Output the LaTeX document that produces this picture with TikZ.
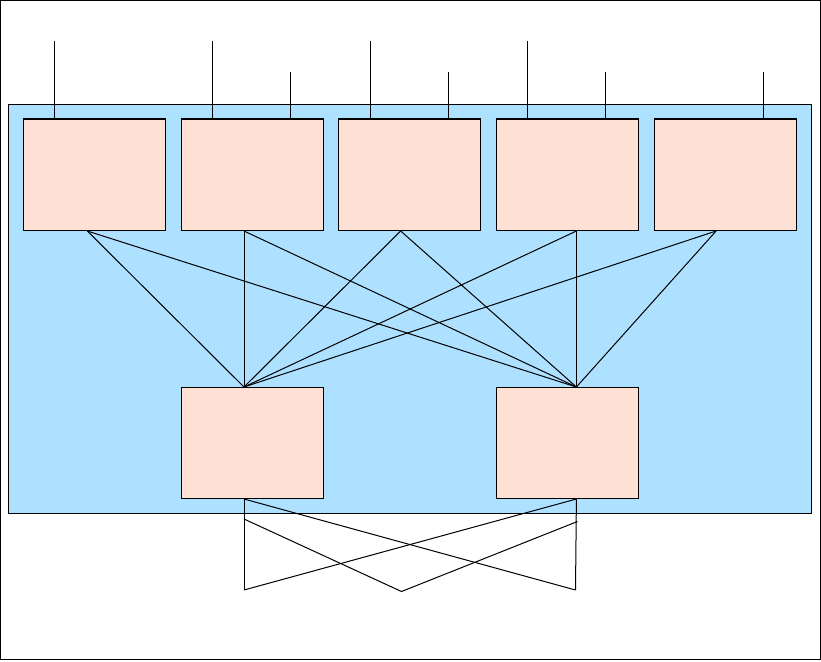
\documentclass[tikz,border=0pt]{standalone}
\usetikzlibrary{positioning}
\definecolor{panelblue}{RGB}{174,224,255}
\definecolor{boxpeach}{RGB}{255,224,212}

\begin{document}
\begin{tikzpicture}[x=1pt, y=-1pt, line width=1pt,
  unit/.style={draw, fill=boxpeach, minimum width=142pt, minimum height=111pt, inner sep=0pt}]
  \useasboundingbox (0,0) rectangle (821,661);
  % outer frame and blue panel
  \draw (0.5,0.5) rectangle (820.5,659.5);
  \node[draw, fill=panelblue, minimum width=803pt, minimum height=409pt, inner sep=0pt] (panel) at (409.75,308.5) {};

  % upper row of units
  \node[unit] (t1) at (94.3,175) {};
  \node[unit, right=14.7pt of t1] (t2) {};
  \node[unit, right=14.7pt of t2] (t3) {};
  \node[unit, right=14.7pt of t3] (t4) {};
  \node[unit, right=14.7pt of t4] (t5) {};
  \foreach \t in {t1,t2,t3,t4,t5}
    \draw[line width=2pt] (\t.north west) -- (\t.north east);

  % lower pair
  \node[unit, below=156pt of t2] (b1) {};
  \node[unit, below=156pt of t4] (b2) {};

  % leads on top of the upper units
  \foreach \t in {t1,t2,t3,t4}
    \draw ([xshift=32]\t.north west) -- ++(0,-78);
  \foreach \t in {t2,t3,t4,t5}
    \draw ([xshift=110]\t.north west) -- ++(0,-47);

  % attachment points
  \coordinate (t1o) at ([xshift=-7]t1.south);
  \coordinate (t2o) at ([xshift=-8]t2.south);
  \coordinate (t3o) at ([xshift=-9]t3.south);
  \coordinate (t4o) at ([xshift=9]t4.south);
  \coordinate (t5o) at ([xshift=-9]t5.south);
  \coordinate (b1i) at ([xshift=-8]b1.north);
  \coordinate (b2i) at ([xshift=9]b2.north);
  \coordinate (b1o) at ([xshift=-8]b1.south);
  \coordinate (b2o) at ([xshift=9]b2.south);

  % full mesh between the rows
  \foreach \i in {1,...,5}
    \foreach \j in {1,2}
      \draw (t\i o) -- (b\j i);

  % crossed lines below the panel
  \coordinate (l1) at (244,590);
  \coordinate (l2) at (575.5,590);
  \coordinate (l3) at (401.5,591.5);
  \draw (b1o) -- (l1);
  \draw (b1o) -- (l2);
  \draw (b2o) -- (l2);
  \draw (b2o) -- (l1);
  \draw ([yshift=-20]b1o) -- (l3) -- ([xshift=1,yshift=-22.5]b2o);
\end{tikzpicture}
\end{document}
